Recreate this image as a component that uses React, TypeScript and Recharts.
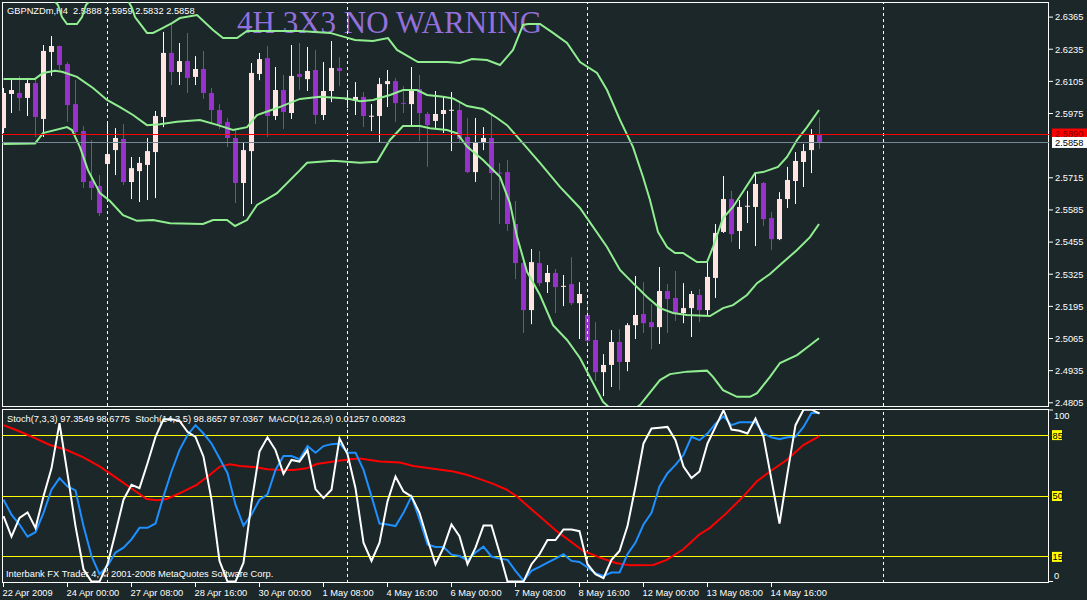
import React from 'react';
import { ComposedChart, Bar, Line, XAxis, YAxis, ReferenceLine } from 'recharts';

const FONT = '"Liberation Sans", Arial, sans-serif';
const BG = '#1b2729';
const BULL = '#ffe4e1';
const BEAR = '#9932cc';
const BAND = '#90ee90';

// ---- candles (GBPNZDm H4) ----
const openP = [2.5916, 2.6054, 2.6058, 2.6038, 2.6098, 2.5953, 2.6224, 2.6248, 2.6175, 2.6013,
  2.5904, 2.5702, 2.5682, 2.5771, 2.5827, 2.5872, 2.5698, 2.5742, 2.5767, 2.5819,
  2.5961, 2.6220, 2.6143, 2.6187, 2.6123, 2.6155, 2.6058, 2.5989, 2.5941, 2.5876,
  2.5694, 2.5823, 2.6135, 2.6199, 2.5965, 2.6070, 2.5977, 2.6135, 2.6114, 2.6151,
  2.5969, 2.6066, 2.6159, 2.6030, 2.6026, 2.6042, 2.5964, 2.5965, 2.6094, 2.6106,
  2.6018, 2.6013, 2.6074, 2.5973, 2.5945, 2.5973, 2.5988, 2.5989, 2.5880, 2.5738,
  2.5856, 2.5876, 2.5736, 2.5738, 2.5528, 2.5370, 2.5180, 2.5370, 2.5293, 2.5330,
  2.5276, 2.5285, 2.5208, 2.5160, 2.5059, 2.4929, 2.4958, 2.5051, 2.4970, 2.5119,
  2.5164, 2.5131, 2.5111, 2.5257, 2.5229, 2.5168, 2.5188, 2.5241, 2.5180, 2.5310,
  2.5496, 2.5629, 2.5500, 2.5600, 2.5597, 2.5694, 2.5552, 2.5467, 2.5629, 2.5702,
  2.5779, 2.5827, 2.5888];
const highP = [2.6078, 2.6114, 2.6127, 2.6119, 2.6114, 2.6252, 2.6288, 2.6250, 2.6183, 2.6110,
  2.5924, 2.5868, 2.5726, 2.5941, 2.5916, 2.5932, 2.5799, 2.5799, 2.5876, 2.5985,
  2.6305, 2.6341, 2.6260, 2.6301, 2.6207, 2.6228, 2.6078, 2.6013, 2.5957, 2.5908,
  2.5856, 2.6179, 2.6220, 2.6248, 2.6163, 2.6131, 2.6252, 2.6260, 2.6244, 2.6232,
  2.6183, 2.6268, 2.6203, 2.6070, 2.6102, 2.6062, 2.6013, 2.6119, 2.6151, 2.6119,
  2.6086, 2.6163, 2.6131, 2.5981, 2.6066, 2.6042, 2.6062, 2.6017, 2.5957, 2.5957,
  2.5920, 2.5969, 2.5775, 2.5787, 2.5621, 2.5390, 2.5427, 2.5419, 2.5362, 2.5346,
  2.5322, 2.5394, 2.5293, 2.5208, 2.5131, 2.5002, 2.5099, 2.5103, 2.5127, 2.5318,
  2.5293, 2.5204, 2.5354, 2.5285, 2.5338, 2.5289, 2.5257, 2.5265, 2.5374, 2.5528,
  2.5722, 2.5662, 2.5625, 2.5662, 2.5734, 2.5698, 2.5576, 2.5657, 2.5759, 2.5819,
  2.5852, 2.5912, 2.5959];
const lowP = [2.5896, 2.5977, 2.5985, 2.5965, 2.5880, 2.5880, 2.6127, 2.6151, 2.5941, 2.5880,
  2.5674, 2.5625, 2.5560, 2.5625, 2.5726, 2.5686, 2.5629, 2.5617, 2.5625, 2.5633,
  2.5920, 2.6090, 2.6090, 2.6058, 2.6090, 2.6034, 2.5937, 2.5912, 2.5839, 2.5613,
  2.5560, 2.5609, 2.6110, 2.5880, 2.5949, 2.5912, 2.5953, 2.6070, 2.6066, 2.5932,
  2.5949, 2.6021, 2.6086, 2.5997, 2.5969, 2.5920, 2.5904, 2.5856, 2.6001, 2.5941,
  2.5977, 2.5928, 2.5864, 2.5759, 2.5916, 2.5896, 2.5823, 2.5856, 2.5734, 2.5698,
  2.5827, 2.5625, 2.5528, 2.5500, 2.5305, 2.5087, 2.5123, 2.5277, 2.5249, 2.5168,
  2.5196, 2.5200, 2.5063, 2.5047, 2.4893, 2.4832, 2.4869, 2.4856, 2.4933, 2.5063,
  2.5087, 2.5022, 2.5043, 2.5087, 2.5136, 2.5127, 2.5071, 2.5131, 2.5156, 2.5229,
  2.5492, 2.5455, 2.5427, 2.5532, 2.5439, 2.5520, 2.5423, 2.5463, 2.5593, 2.5609,
  2.5678, 2.5734, 2.5832];
const closeP = [2.6058, 2.6070, 2.6038, 2.6098, 2.5961, 2.6228, 2.6248, 2.6171, 2.6009, 2.5900,
  2.5698, 2.5674, 2.5572, 2.5811, 2.5876, 2.5698, 2.5754, 2.5775, 2.5823, 2.5965,
  2.6220, 2.6143, 2.6187, 2.6119, 2.6155, 2.6058, 2.5989, 2.5932, 2.5876, 2.5694,
  2.5827, 2.6139, 2.6195, 2.5965, 2.6070, 2.5981, 2.6127, 2.6123, 2.6147, 2.5969,
  2.6066, 2.6159, 2.6147, 2.6038, 2.6042, 2.5965, 2.5966, 2.6094, 2.6106, 2.6017,
  2.6016, 2.6074, 2.5977, 2.5928, 2.5973, 2.5989, 2.5990, 2.5872, 2.5738, 2.5856,
  2.5876, 2.5734, 2.5732, 2.5528, 2.5370, 2.5180, 2.5374, 2.5289, 2.5330, 2.5273,
  2.5278, 2.5208, 2.5245, 2.5055, 2.4929, 2.4958, 2.5051, 2.4970, 2.5119, 2.5160,
  2.5127, 2.5111, 2.5257, 2.5225, 2.5168, 2.5188, 2.5245, 2.5180, 2.5314, 2.5492,
  2.5629, 2.5487, 2.5597, 2.5602, 2.5690, 2.5548, 2.5467, 2.5629, 2.5706, 2.5783,
  2.5823, 2.5888, 2.5858];

// ---- Bollinger bands (read points: bar index, price) ----
const upperX = [0, 4.56, 6.81, 7.31, 7.94, 9.19, 9.81, 10.31, 12.06, 15.19, 16.06, 16.44, 17.94, 18.69, 19.94, 21.06, 22.06, 24.19, 26.19, 27.44,
  29.19, 30.44, 37.06, 40.81, 42.69, 43.94, 46.19, 48.06, 49.19, 51.81, 55.44, 57.06, 58.56, 60.44, 62.06, 63.69, 64.94, 65.56, 67.06, 68.69,
  70.44, 72.06, 74.19, 75.44, 77.06, 78.69, 79.94, 80.81, 81.81, 82.94, 83.94, 84.94, 86.69, 87.94, 88.69, 89.94, 91.19, 93.94, 94.94, 96.81,
  97.94, 99.19, 100.44, 101.94];
const upperP = [2.6515, 2.6495, 2.6414, 2.6365, 2.6337, 2.6337, 2.6365, 2.6414, 2.6474, 2.6454, 2.6402, 2.6365, 2.6301, 2.6301, 2.6321, 2.6341, 2.6361, 2.6373, 2.6313, 2.6280,
  2.6280, 2.6309, 2.6309, 2.6301, 2.6284, 2.6272, 2.6268, 2.6280, 2.6232, 2.6183, 2.6183, 2.6179, 2.6195, 2.6191, 2.6171, 2.6232, 2.6333, 2.6337, 2.6337, 2.6301,
  2.6260, 2.6183, 2.6139, 2.6070, 2.5949, 2.5839, 2.5718, 2.5625, 2.5496, 2.5435, 2.5411, 2.5411, 2.5374, 2.5374, 2.5435, 2.5552, 2.5597, 2.5734, 2.5738, 2.5759,
  2.5799, 2.5868, 2.5920, 2.5989];
const midX = [0, 3.94, 4.94, 6.44, 7.31, 9.19, 11.19, 12.94, 14.56, 16.19, 17.94, 19.56, 21.69, 24.56, 26.81, 28.69, 30.44, 31.69, 34.19, 37.06,
  39.56, 42.94, 44.56, 46.19, 48.31, 49.94, 51.69, 52.94, 54.94, 56.19, 57.94, 59.94, 61.69, 62.94, 64.56, 67.06, 69.56, 72.06, 72.94, 75.44,
  77.06, 78.69, 80.44, 82.06, 83.69, 85.44, 88.31, 89.94, 91.19, 92.94, 94.19, 95.81, 97.06, 99.19, 100.81, 101.94];
const midP = [2.6115, 2.6115, 2.6139, 2.6148, 2.6144, 2.6123, 2.6078, 2.6030, 2.6001, 2.5969, 2.5928, 2.5932, 2.5942, 2.5949, 2.5928, 2.5908, 2.5920, 2.5969, 2.5997, 2.6034,
  2.6043, 2.6036, 2.6025, 2.6030, 2.6050, 2.6070, 2.6070, 2.6050, 2.6043, 2.6036, 2.6005, 2.5993, 2.5957, 2.5928, 2.5868, 2.5775, 2.5678, 2.5593, 2.5552, 2.5435,
  2.5342, 2.5289, 2.5233, 2.5188, 2.5168, 2.5160, 2.5156, 2.5188, 2.5200, 2.5241, 2.5289, 2.5326, 2.5362, 2.5423, 2.5475, 2.5528];
const lowX = [0, 3.94, 4.94, 7.94, 8.56, 9.56, 10.56, 12.06, 13.31, 14.94, 16.69, 18.69, 20.81, 24.94, 26.19, 27.94, 28.94, 30.44, 31.69, 32.94,
  34.19, 37.06, 37.94, 41.19, 44.56, 46.69, 48.31, 49.94, 52.06, 53.31, 55.44, 56.69, 57.94, 59.94, 62.06, 63.31, 64.19, 65.44, 67.06, 68.69,
  70.44, 72.06, 73.69, 74.94, 76.06, 77.69, 79.56, 82.06, 83.31, 85.44, 87.94, 88.69, 89.94, 91.69, 93.31, 94.19, 95.81, 97.06, 99.19, 100.81,
  101.94];
const lowBandP = [2.5852, 2.5854, 2.5896, 2.5920, 2.5908, 2.5839, 2.5746, 2.5653, 2.5621, 2.5564, 2.5541, 2.5544, 2.5531, 2.5528, 2.5544, 2.5544, 2.5520, 2.5544, 2.5605, 2.5629,
  2.5653, 2.5746, 2.5776, 2.5784, 2.5776, 2.5780, 2.5868, 2.5924, 2.5924, 2.5915, 2.5908, 2.5895, 2.5841, 2.5787, 2.5719, 2.5612, 2.5477, 2.5335, 2.5241, 2.5119,
  2.5059, 2.4986, 2.4885, 2.4809, 2.4776, 2.4755, 2.4796, 2.4897, 2.4921, 2.4931, 2.4935, 2.4910, 2.4856, 2.4829, 2.4829, 2.4844, 2.4910, 2.4966, 2.4998, 2.5038,
  2.5066];

// ---- oscillators ----
const stochFast = [38.4, 26.6, 37.4, 40.6, 31.7, 49.8, 65.9, 91.9, 62.7, 32.7,
  7.9, 0.8, 0.8, 10.8, 28.9, 47.9, 56.4, 54.5, 68.8, 84.0,
  94.1, 94.1, 93.2, 86.9, 84.0, 72.6, 47.9, 12.7, 0.8, 0.8,
  11.7, 46.0, 75.5, 83.7, 76.4, 62.7, 70.7, 69.8, 76.4, 54.0,
  48.8, 53.6, 83.1, 74.1, 54.5, 23.2, 12.7, 23.2, 46.9, 61.2,
  52.6, 49.8, 40.3, 25.1, 10.8, 20.3, 33.6, 26.9, 10.8, 20.3,
  33.0, 33.0, 17.5, 0.8, 0.8, 0.8, 10.8, 16.5, 24.7, 24.7,
  30.8, 30.8, 29.8, 10.8, 5.1, 2.8, 13.3, 18.4, 32.7, 55.5,
  80.2, 88.8, 89.2, 89.7, 82.1, 66.9, 60.3, 64.1, 80.2, 89.7,
  99.3, 88.2, 87.5, 85.9, 94.5, 84.0, 59.3, 34.2, 63.1, 90.7,
  99.6, 99.6, 97.4];
const stochSlow = [47.9, 39.3, 33.6, 26.6, 29.2, 40.3, 53.6, 60.3, 55.5, 53.2,
  32.7, 15.5, 5.1, 9.8, 17.5, 20.3, 25.1, 31.7, 31.7, 34.2,
  49.8, 64.1, 76.4, 85.0, 90.7, 85.9, 80.2, 71.7, 63.1, 45.0,
  33.0, 39.3, 47.9, 51.0, 65.0, 73.0, 73.0, 71.1, 78.7, 74.9,
  78.7, 79.8, 80.2, 74.9, 74.9, 65.0, 49.8, 34.2, 33.6, 32.7,
  40.3, 49.8, 36.5, 22.2, 20.7, 20.7, 16.3, 15.5, 13.1, 17.5,
  20.9, 15.2, 14.0, 13.3, 7.0, 1.3, 7.0, 9.3, 11.7, 14.0,
  16.5, 12.7, 12.1, 8.9, 5.6, 4.1, 6.0, 6.0, 16.5, 23.2,
  33.6, 40.3, 55.5, 63.1, 67.9, 73.6, 84.0, 82.1, 85.9, 91.6,
  95.8, 90.7, 92.4, 92.4, 92.4, 85.9, 83.7, 82.7, 83.7, 84.0,
  89.7, 97.7, 97.7];
const macdX = [0, 1.65, 3.73, 5.81, 7.9, 9.98, 12.06, 14.15, 16.23, 17.9, 19.15, 20.4, 22.06, 24.15, 25.8, 27.06, 28.3, 29.56, 31.65, 32.9,
  34.56, 36.23, 37.9, 39.15, 41.23, 43.31, 44.56, 47.06, 49.56, 51.23, 53.73, 56.23, 57.9, 59.56, 61.23, 62.9, 64.15, 65.81, 67.48, 69.15,
  70.81, 72.48, 74.56, 76.65, 78.31, 81.23, 82.9, 84.98, 86.98, 88.31, 90.4, 92.48, 94.15, 95.81, 97.9, 99.98, 101.98];
const macdV = [90.7, 87.8, 83.7, 79.3, 76.4, 72.2, 66.9, 60.3, 53.6, 48.3, 47.5, 48.3, 51.7, 56.4, 62.2, 66.9, 68.2, 67.3, 66.5, 65.4,
  65.0, 65.0, 65.9, 68.4, 69.8, 71.1, 71.5, 69.8, 69.2, 67.3, 65.6, 64.1, 62.2, 59.7, 57.0, 53.6, 49.8, 43.1, 36.5, 29.8,
  24.1, 18.4, 14.6, 11.4, 10.2, 10.4, 13.3, 19.4, 27.9, 31.7, 40.3, 49.8, 58.3, 64.1, 70.7, 79.3, 84.4];

// ---- axes / annotations ----
const dateLabels = ['22 Apr 2009', '24 Apr 00:00', '27 Apr 08:00', '28 Apr 16:00', '30 Apr 00:00', '1 May 08:00',
  '4 May 16:00', '6 May 00:00', '7 May 08:00', '8 May 16:00', '12 May 00:00', '13 May 08:00', '14 May 16:00'];
const dateTickIdx = dateLabels.map((_, k) => k * 8);
const gridPriceTicks = [2.4805, 2.4935, 2.5065, 2.5195, 2.5325, 2.5455, 2.5585, 2.5715, 2.5975, 2.6105, 2.6235, 2.6365];
const askPrice = 2.589;
const bidPrice = 2.5858;
const priceTicks = [...gridPriceTicks, askPrice, bidPrice];
const separators = [13, 43, 73, 110];
const oscLevels = [85, 50, 15];
const oscTicks = [0, 15, 50, 85, 100];
const X_DOMAIN: [number, number] = [-0.1875, 130.6875];
const PRICE_DOMAIN: [number, number] = [2.4792, 2.6426];

const candles = openP.map((o, i) => ({ i, o, h: highP[i], l: lowP[i], c: closeP[i], range: [lowP[i], highP[i]] }));
const upperBand = upperX.map((i, k) => ({ i, p: upperP[k] }));
const midBand = midX.map((i, k) => ({ i, p: midP[k] }));
const lowerBand = lowX.map((i, k) => ({ i, p: lowBandP[k] }));
const stochData = stochFast.map((w, i) => ({ i, w, b: stochSlow[i] }));
const macdData = macdX.map((i, k) => ({ i, v: macdV[k] }));

const Candle = (props: any) => {
  const { x, y, width, height, payload } = props;
  if (!payload || x == null) return null;
  const { o, h, l, c } = payload;
  const top = Math.min(y, y + height);
  const bot = Math.max(y, y + height);
  const k = h - l > 0 ? (bot - top) / (h - l) : 0;
  const cx = Math.floor(x + width / 2) + 0.5;
  const bodyTop = top + (h - Math.max(o, c)) * k;
  const bodyBot = top + (h - Math.min(o, c)) * k;
  const bull = c >= o;
  const col = bull ? BULL : BEAR;
  return (
    <g>
      <line x1={cx} x2={cx} y1={top} y2={bot} stroke={bull ? '#ffffff' : BEAR} strokeWidth={1} />
      <rect x={cx - 2.5} y={bodyTop} width={5} height={Math.max(1, bodyBot - bodyTop)} fill={col} />
    </g>
  );
};

const PriceTick = (props: any) => {
  const { x, y, payload } = props;
  const v = payload.value;
  const txt = v.toFixed(4);
  if (v === askPrice) {
    return (
      <g>
        <rect x={x + 3} y={y - 6} width={35} height={9} fill="#ff0000" />
        <text x={x + 6} y={y + 2.6} fill="#800000" fontSize={9.3} fontFamily={FONT}>{txt}</text>
      </g>
    );
  }
  if (v === bidPrice) {
    return (
      <g>
        <rect x={x + 3} y={y - 5.5} width={35} height={11} fill="#ffffff" />
        <text x={x + 6} y={y + 3.4} fill="#000000" fontSize={9.3} fontFamily={FONT}>{txt}</text>
      </g>
    );
  }
  return (
    <g>
      <line x1={x} x2={x + 4} y1={y} y2={y} stroke="#ffffff" strokeWidth={1} />
      <text x={x + 6} y={y + 3.4} fill="#ffffff" fontSize={9.3} fontFamily={FONT}>{txt}</text>
    </g>
  );
};

const OscTick = (props: any) => {
  const { x, y, payload } = props;
  const v = payload.value;
  if (v === 100) {
    return (
      <g>
        <line x1={x} x2={x + 4} y1={y + 1} y2={y + 1} stroke="#ffffff" />
        <text x={x + 5} y={y + 9.5} fill="#ffffff" fontSize={9.3} fontFamily={FONT}>100</text>
      </g>
    );
  }
  if (v === 0) {
    return (
      <g>
        <line x1={x} x2={x + 4} y1={y - 1.5} y2={y - 1.5} stroke="#ffffff" />
        <text x={x + 5} y={y - 4} fill="#ffffff" fontSize={9.3} fontFamily={FONT}>0</text>
      </g>
    );
  }
  return (
    <g>
      <rect x={x + 3} y={y - 5} width={10} height={10} fill="#ffff00" />
      <text x={x + 3.5} y={y + 3.4} fill="#000000" fontSize={9.3} fontFamily={FONT}>{v}</text>
    </g>
  );
};

const DateTick = (props: any) => {
  const { x, y, payload } = props;
  const idx = dateTickIdx.indexOf(payload.value);
  return (
    <g>
      <line x1={x} x2={x} y1={y} y2={y + 4} stroke="#ffffff" />
      <text x={x - 1} y={y + 13} fill="#ffffff" fontSize={9.3} fontFamily={FONT}>{dateLabels[idx]}</text>
    </g>
  );
};

export default function App() {
  return (
    <div style={{ position: 'absolute', left: 0, top: 0, width: 1087, height: 600, background: BG, overflow: 'hidden' }}>
      <style>{'.recharts-reference-line line { shape-rendering: crispEdges; }'}</style>
      <svg width={1087} height={600} style={{ position: 'absolute', left: 0, top: 0 }}>
        <rect x={2.5} y={2.5} width={1046} height={404} fill="none" stroke="#ffffff" strokeWidth={1} />
        <rect x={2.5} y={409.5} width={1046} height={173} fill="none" stroke="#ffffff" strokeWidth={1} />
        <text x={7} y={14} fill="#ffffff" fontSize={9.3} fontFamily={FONT} style={{ whiteSpace: 'pre' }}>
          {'GBPNZDm,H4  2.5888 2.5959 2.5832 2.5858'}
        </text>
        <text x={237} y={33} fill="#9370db" fontSize={31} fontFamily='"Liberation Serif", "Times New Roman", serif'>
          4H 3X3 NO WARNING
        </text>
        <text x={7} y={421.5} fill="#ffffff" fontSize={9.3} fontFamily={FONT} style={{ whiteSpace: 'pre' }}>
          {'Stoch(7,3,3) 97.3549 98.6775  Stoch(14,3,5) 98.8657 97.0367  MACD(12,26,9) 0.01257 0.00823'}
        </text>
        <text x={6} y={577} fill="#ffffff" fontSize={9.3} fontFamily={FONT}>
          Interbank FX Trader 4, © 2001-2008 MetaQuotes Software Corp.
        </text>
      </svg>

      <div style={{ position: 'absolute', left: 0, top: 0 }}>
        <ComposedChart width={1087} height={407} data={candles} margin={{ top: 2, right: 0, bottom: 1, left: 2 }}>
          <XAxis type="number" dataKey="i" domain={X_DOMAIN} allowDataOverflow hide />
          <YAxis orientation="right" type="number" domain={PRICE_DOMAIN} allowDataOverflow width={38}
            ticks={priceTicks} interval={0} tick={(p: any) => <PriceTick {...p} />} tickLine={false}
            axisLine={false} tickSize={0} tickMargin={0} />
          {separators.map((s) => (
            <ReferenceLine key={s} x={s} stroke="#ffffff" strokeDasharray="3 3" strokeWidth={1} />
          ))}
          <Bar dataKey="range" barSize={5} shape={(p: any) => <Candle {...p} />} isAnimationActive={false} />
          <Line data={upperBand} dataKey="p" type="linear" stroke={BAND} strokeWidth={2} dot={false} isAnimationActive={false} />
          <Line data={midBand} dataKey="p" type="linear" stroke={BAND} strokeWidth={2} dot={false} isAnimationActive={false} />
          <Line data={lowerBand} dataKey="p" type="linear" stroke={BAND} strokeWidth={2} dot={false} isAnimationActive={false} />
          <ReferenceLine y={askPrice} stroke="#ff0000" strokeWidth={1} />
          <ReferenceLine y={bidPrice} stroke="#778899" strokeWidth={1} />
        </ComposedChart>
      </div>

      <div style={{ position: 'absolute', left: 0, top: 400 }}>
        <ComposedChart width={1087} height={200} data={stochData} margin={{ top: 9, right: 0, bottom: 0, left: 2 }}>
          <XAxis type="number" dataKey="i" domain={X_DOMAIN} allowDataOverflow ticks={dateTickIdx} interval={0}
            tick={(p: any) => <DateTick {...p} />} tickLine={false} axisLine={false} height={17} tickSize={0} tickMargin={0} />
          <YAxis orientation="right" type="number" domain={[0, 100]} allowDataOverflow width={38}
            ticks={oscTicks} interval={0} tick={(p: any) => <OscTick {...p} />} tickLine={false}
            axisLine={false} tickSize={0} tickMargin={0} />
          {oscLevels.map((v) => (
            <ReferenceLine key={v} y={v} stroke="#ffff00" strokeWidth={1} />
          ))}
          {separators.map((s) => (
            <ReferenceLine key={'s' + s} x={s} stroke="#ffffff" strokeDasharray="3 3" strokeWidth={1} />
          ))}
          <Line data={macdData} dataKey="v" type="linear" stroke="#ff0000" strokeWidth={2} dot={false} isAnimationActive={false} />
          <Line dataKey="b" type="linear" stroke="#1e90ff" strokeWidth={2} dot={false} isAnimationActive={false} />
          <Line dataKey="w" type="linear" stroke="#ffffff" strokeWidth={2} dot={false} isAnimationActive={false} />
        </ComposedChart>
      </div>
    </div>
  );
}
